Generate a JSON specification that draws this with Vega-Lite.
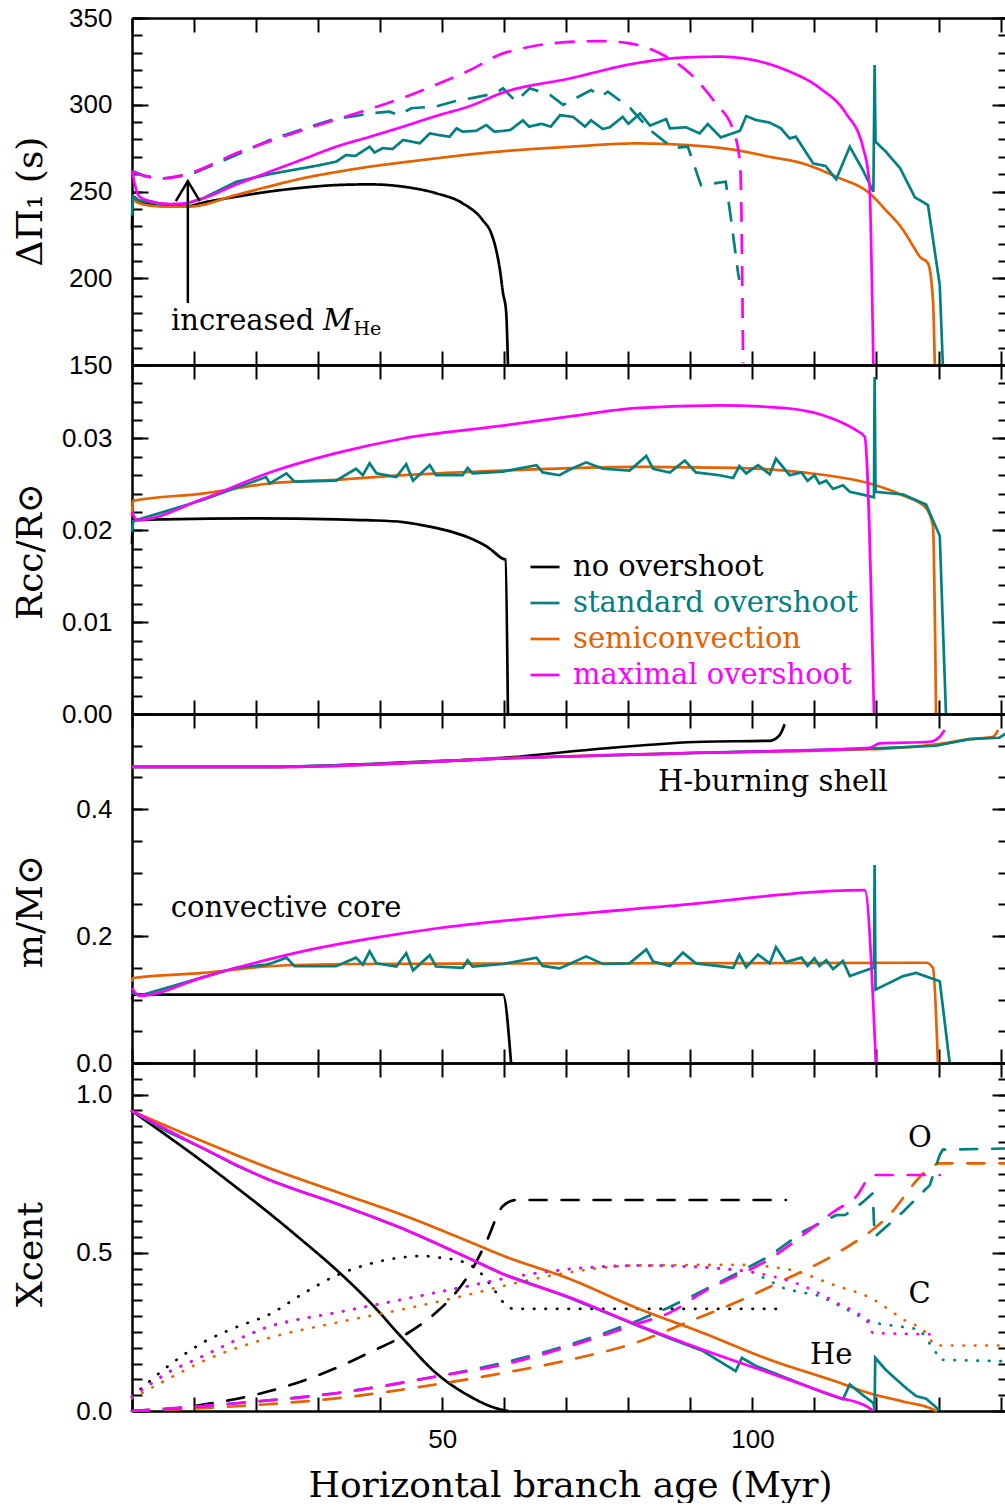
{
"$schema": "https://vega.github.io/schema/vega-lite/v6.json",
"padding": {"left": 12, "top": 5, "right": 0, "bottom": 0},
"bounds": "flush",
"spacing": 0,
"resolve": {"scale": {"strokeDash": "independent"}},
"config": {
  "view": {"stroke": null},
  "axis": {"domainColor": "#000", "tickColor": "#000", "labelColor": "#000", "titleColor": "#000", "grid": false, "domainWidth": 2.5, "tickWidth": 2, "labelFont": "Liberation Sans", "labelFontSize": 26, "titleFont": "DejaVu Serif", "titleFontSize": 36, "titleFontWeight": "normal", "labelFlush": false, "labelOverlap": false},
  "line": {"strokeWidth": 2.7, "clip": true, "interpolate": "monotone"}
},
"datasets": {
"p1": [
{"m":"none","v":"a","x":0,"y":228},{"m":"none","v":"a","x":0.15,"y":247},{"m":"none","v":"a","x":1,"y":245},{"m":"none","v":"a","x":3,"y":243},{"m":"none","v":"a","x":5.5,"y":241.5},{"m":"none","v":"a","x":8.2,"y":241.2},{"m":"none","v":"a","x":12,"y":244},{"m":"none","v":"a","x":16.8,"y":247},{"m":"none","v":"a","x":22.2,"y":250},{"m":"none","v":"a","x":27.5,"y":252.2},{"m":"none","v":"a","x":32.9,"y":253.7},{"m":"none","v":"a","x":38.3,"y":254.1},{"m":"none","v":"a","x":43.7,"y":252.8},{"m":"none","v":"a","x":49,"y":249},{"m":"none","v":"a","x":53.3,"y":243.2},{"m":"none","v":"a","x":56.5,"y":233.6},{"m":"none","v":"a","x":58,"y":225},{"m":"none","v":"a","x":58.7,"y":216.3},{"m":"none","v":"a","x":59.3,"y":205},{"m":"none","v":"a","x":59.8,"y":191.5},{"m":"none","v":"a","x":60.3,"y":181},{"m":"none","v":"a","x":60.6,"y":150},
{"m":"semi","v":"a","x":0,"y":246},{"m":"semi","v":"a","x":1,"y":243.5},{"m":"semi","v":"a","x":4,"y":241.5},{"m":"semi","v":"a","x":6.1,"y":241.2},{"m":"semi","v":"a","x":9.3,"y":241.3},{"m":"semi","v":"a","x":16.8,"y":248},{"m":"semi","v":"a","x":22.2,"y":253},{"m":"semi","v":"a","x":27.5,"y":257.6},{"m":"semi","v":"a","x":32.9,"y":261.2},{"m":"semi","v":"a","x":38.3,"y":264.3},{"m":"semi","v":"a","x":43.7,"y":266.8},{"m":"semi","v":"a","x":49,"y":269.1},{"m":"semi","v":"a","x":54.5,"y":271.4},{"m":"semi","v":"a","x":59.8,"y":273.2},{"m":"semi","v":"a","x":70.6,"y":275.8},{"m":"semi","v":"a","x":81.2,"y":277.7},{"m":"semi","v":"a","x":89.3,"y":276.8},{"m":"semi","v":"a","x":97.3,"y":273.9},{"m":"semi","v":"a","x":102.8,"y":270},{"m":"semi","v":"a","x":108.1,"y":266.2},{"m":"semi","v":"a","x":113.5,"y":258.5},{"m":"semi","v":"a","x":118.9,"y":248.9},{"m":"semi","v":"a","x":121.5,"y":239.3},{"m":"semi","v":"a","x":124.3,"y":227.8},{"m":"semi","v":"a","x":126,"y":218},{"m":"semi","v":"a","x":127,"y":212.4},{"m":"semi","v":"a","x":128.3,"y":208.6},{"m":"semi","v":"a","x":129.1,"y":187.5},{"m":"semi","v":"a","x":129.4,"y":150},
{"m":"std","v":"a","x":0,"y":236},{"m":"std","v":"a","x":0.15,"y":247},{"m":"std","v":"a","x":1,"y":245},{"m":"std","v":"a","x":4,"y":243},{"m":"std","v":"a","x":8,"y":242.3},{"m":"std","v":"a","x":11.4,"y":246},{"m":"std","v":"a","x":16.8,"y":255.6},{"m":"std","v":"a","x":22.2,"y":260},{"m":"std","v":"a","x":27.5,"y":263.4},{"m":"std","v":"a","x":30,"y":265},{"m":"std","v":"a","x":32.9,"y":267.2},{"m":"std","v":"a","x":34.5,"y":271},{"m":"std","v":"a","x":36,"y":270.5},{"m":"std","v":"a","x":38.3,"y":275.8},{"m":"std","v":"a","x":39.1,"y":272.4},{"m":"std","v":"a","x":40.4,"y":275},{"m":"std","v":"a","x":42,"y":274.5},{"m":"std","v":"a","x":43.7,"y":279.7},{"m":"std","v":"a","x":46.4,"y":277.8},{"m":"std","v":"a","x":48,"y":283.5},{"m":"std","v":"a","x":49.5,"y":282.5},{"m":"std","v":"a","x":51.2,"y":281.6},{"m":"std","v":"a","x":52.3,"y":286.4},{"m":"std","v":"a","x":53.3,"y":284.5},{"m":"std","v":"a","x":55.5,"y":285},{"m":"std","v":"a","x":57.1,"y":288.3},{"m":"std","v":"a","x":58.4,"y":284.5},{"m":"std","v":"a","x":59.8,"y":284.9},{"m":"std","v":"a","x":61,"y":285.5},{"m":"std","v":"a","x":63,"y":291},{"m":"std","v":"a","x":64,"y":287.4},{"m":"std","v":"a","x":66,"y":289},{"m":"std","v":"a","x":67.5,"y":287.4},{"m":"std","v":"a","x":69,"y":294},{"m":"std","v":"a","x":71.1,"y":293},{"m":"std","v":"a","x":73,"y":287.4},{"m":"std","v":"a","x":74,"y":291},{"m":"std","v":"a","x":75.9,"y":286},{"m":"std","v":"a","x":77,"y":287},{"m":"std","v":"a","x":79.1,"y":293},{"m":"std","v":"a","x":80,"y":289},{"m":"std","v":"a","x":81.9,"y":295},{"m":"std","v":"a","x":83.5,"y":288},{"m":"std","v":"a","x":86.1,"y":291.7},{"m":"std","v":"a","x":86.7,"y":286.4},{"m":"std","v":"a","x":89.3,"y":287},{"m":"std","v":"a","x":91.5,"y":283.5},{"m":"std","v":"a","x":92.8,"y":288.9},{"m":"std","v":"a","x":94.9,"y":281.2},{"m":"std","v":"a","x":98,"y":285},{"m":"std","v":"a","x":99,"y":293.5},{"m":"std","v":"a","x":100.6,"y":291.2},{"m":"std","v":"a","x":102.8,"y":289.7},{"m":"std","v":"a","x":104.6,"y":286.4},{"m":"std","v":"a","x":106,"y":280.6},{"m":"std","v":"a","x":107,"y":281.6},{"m":"std","v":"a","x":109.8,"y":266.2},{"m":"std","v":"a","x":111.8,"y":264.7},{"m":"std","v":"a","x":113.5,"y":257},{"m":"std","v":"a","x":115.7,"y":275.8},{"m":"std","v":"a","x":117.8,"y":262.4},{"m":"std","v":"a","x":119.5,"y":249.9},{"m":"std","v":"a","x":119.7,"y":322.9},{"m":"std","v":"a","x":119.85,"y":278.7},{"m":"std","v":"a","x":121.5,"y":273},{"m":"std","v":"a","x":123.8,"y":263.5},{"m":"std","v":"a","x":126.2,"y":246.6},{"m":"std","v":"a","x":128.3,"y":242.2},{"m":"std","v":"a","x":130.2,"y":196},{"m":"std","v":"a","x":130.7,"y":150},
{"m":"std","v":"b","x":0,"y":262},{"m":"std","v":"b","x":2,"y":259},{"m":"std","v":"b","x":5,"y":257.5},{"m":"std","v":"b","x":9.3,"y":259.5},{"m":"std","v":"b","x":16.8,"y":271},{"m":"std","v":"b","x":22.2,"y":279.7},{"m":"std","v":"b","x":27.5,"y":286},{"m":"std","v":"b","x":32.9,"y":292},{"m":"std","v":"b","x":36,"y":293.5},{"m":"std","v":"b","x":38.3,"y":295},{"m":"std","v":"b","x":41.5,"y":296},{"m":"std","v":"b","x":43,"y":294},{"m":"std","v":"b","x":45,"y":298},{"m":"std","v":"b","x":49,"y":299},{"m":"std","v":"b","x":52,"y":302},{"m":"std","v":"b","x":55,"y":304},{"m":"std","v":"b","x":58.6,"y":306.6},{"m":"std","v":"b","x":59.8,"y":309.5},{"m":"std","v":"b","x":61.9,"y":301.8},{"m":"std","v":"b","x":64.1,"y":309.5},{"m":"std","v":"b","x":67.4,"y":305.6},{"m":"std","v":"b","x":69.5,"y":299.9},{"m":"std","v":"b","x":74,"y":308.5},{"m":"std","v":"b","x":75.6,"y":304.7},{"m":"std","v":"b","x":76.7,"y":307.5},{"m":"std","v":"b","x":80.3,"y":298.1},{"m":"std","v":"b","x":83.5,"y":285.4},{"m":"std","v":"b","x":87.2,"y":275},{"m":"std","v":"b","x":89.6,"y":275.8},{"m":"std","v":"b","x":91.7,"y":253.7},{"m":"std","v":"b","x":95.7,"y":255.6},{"m":"std","v":"b","x":96.5,"y":235.5},{"m":"std","v":"b","x":97.7,"y":202.8},{"m":"std","v":"b","x":97.9,"y":199},
{"m":"max","v":"b","x":0,"y":261.4},{"m":"max","v":"b","x":2,"y":259},{"m":"max","v":"b","x":5,"y":257.6},{"m":"max","v":"b","x":9.3,"y":260.5},{"m":"max","v":"b","x":16.8,"y":272},{"m":"max","v":"b","x":22.2,"y":279},{"m":"max","v":"b","x":27.5,"y":285.4},{"m":"max","v":"b","x":38.3,"y":297.5},{"m":"max","v":"b","x":43.7,"y":304},{"m":"max","v":"b","x":49,"y":311.5},{"m":"max","v":"b","x":54.5,"y":320},{"m":"max","v":"b","x":59.8,"y":329.6},{"m":"max","v":"b","x":61.9,"y":331.6},{"m":"max","v":"b","x":67.8,"y":335.4},{"m":"max","v":"b","x":75.4,"y":336.7},{"m":"max","v":"b","x":80.2,"y":335.4},{"m":"max","v":"b","x":85.6,"y":328.7},{"m":"max","v":"b","x":89.9,"y":318.1},{"m":"max","v":"b","x":94.1,"y":300.8},{"m":"max","v":"b","x":96.9,"y":285.4},{"m":"max","v":"b","x":98,"y":266.4},{"m":"max","v":"b","x":98.2,"y":245},{"m":"max","v":"b","x":98.5,"y":151},
{"m":"max","v":"a","x":0,"y":262},{"m":"max","v":"a","x":1.2,"y":247},{"m":"max","v":"a","x":3.5,"y":244},{"m":"max","v":"a","x":6.1,"y":242.8},{"m":"max","v":"a","x":8,"y":243},{"m":"max","v":"a","x":11.4,"y":246},{"m":"max","v":"a","x":16.8,"y":254},{"m":"max","v":"a","x":22.2,"y":261.4},{"m":"max","v":"a","x":27.5,"y":268.5},{"m":"max","v":"a","x":32.9,"y":275.8},{"m":"max","v":"a","x":38.3,"y":281.5},{"m":"max","v":"a","x":43.7,"y":287.4},{"m":"max","v":"a","x":49,"y":293.5},{"m":"max","v":"a","x":54.5,"y":299.3},{"m":"max","v":"a","x":59.8,"y":307},{"m":"max","v":"a","x":70.6,"y":315.2},{"m":"max","v":"a","x":81.2,"y":323.9},{"m":"max","v":"a","x":89.3,"y":327.3},{"m":"max","v":"a","x":94.8,"y":327.7},{"m":"max","v":"a","x":100.1,"y":325.8},{"m":"max","v":"a","x":105.4,"y":320},{"m":"max","v":"a","x":110.9,"y":309.5},{"m":"max","v":"a","x":115.1,"y":295},{"m":"max","v":"a","x":117.8,"y":275.8},{"m":"max","v":"a","x":118.9,"y":252.8},{"m":"max","v":"a","x":119.1,"y":226},{"m":"max","v":"a","x":119.5,"y":150}
],
"p2": [
{"m":"none","x":0,"y":0.0185},{"m":"none","x":0.15,"y":0.0211},{"m":"none","x":5,"y":0.0212},{"m":"none","x":20,"y":0.0213},{"m":"none","x":33,"y":0.0212},{"m":"none","x":38,"y":0.0211},{"m":"none","x":43.7,"y":0.0209},{"m":"none","x":48,"y":0.0204},{"m":"none","x":51.7,"y":0.0198},{"m":"none","x":55,"y":0.019},{"m":"none","x":57.5,"y":0.0181},{"m":"none","x":59.8,"y":0.0169},{"m":"none","x":60.2,"y":0.0168},{"m":"none","x":60.6,"y":0},
{"m":"semi","x":0,"y":0.0216},{"m":"semi","x":0.15,"y":0.0232},{"m":"semi","x":11.4,"y":0.024},{"m":"semi","x":22.2,"y":0.0251},{"m":"semi","x":32.9,"y":0.0255},{"m":"semi","x":43.7,"y":0.026},{"m":"semi","x":59.8,"y":0.0265},{"m":"semi","x":81.2,"y":0.0269},{"m":"semi","x":97.3,"y":0.0268},{"m":"semi","x":108.1,"y":0.0263},{"m":"semi","x":118.9,"y":0.0251},{"m":"semi","x":124.3,"y":0.0238},{"m":"semi","x":127.9,"y":0.0225},{"m":"semi","x":129.1,"y":0.0205},{"m":"semi","x":129.6,"y":0},
{"m":"std","x":0,"y":0.0198},{"m":"std","x":0.2,"y":0.021},{"m":"std","x":11.4,"y":0.0233},{"m":"std","x":21.6,"y":0.0258},{"m":"std","x":22.2,"y":0.0251},{"m":"std","x":24.9,"y":0.0262},{"m":"std","x":26.2,"y":0.0253},{"m":"std","x":32.9,"y":0.0254},{"m":"std","x":36.1,"y":0.0267},{"m":"std","x":37.2,"y":0.026},{"m":"std","x":38.3,"y":0.0273},{"m":"std","x":39.4,"y":0.0262},{"m":"std","x":42.6,"y":0.0258},{"m":"std","x":44.2,"y":0.0272},{"m":"std","x":45.3,"y":0.0254},{"m":"std","x":48,"y":0.0271},{"m":"std","x":49,"y":0.026},{"m":"std","x":53.3,"y":0.026},{"m":"std","x":54.1,"y":0.0268},{"m":"std","x":54.9,"y":0.0262},{"m":"std","x":59.8,"y":0.0264},{"m":"std","x":65.2,"y":0.0271},{"m":"std","x":66.2,"y":0.0263},{"m":"std","x":68.9,"y":0.026},{"m":"std","x":70.5,"y":0.0266},{"m":"std","x":73.2,"y":0.0274},{"m":"std","x":75.9,"y":0.0267},{"m":"std","x":80.2,"y":0.0265},{"m":"std","x":82.9,"y":0.0281},{"m":"std","x":84,"y":0.0267},{"m":"std","x":86.7,"y":0.0263},{"m":"std","x":89.1,"y":0.0276},{"m":"std","x":90.9,"y":0.0263},{"m":"std","x":94.7,"y":0.026},{"m":"std","x":96.9,"y":0.0257},{"m":"std","x":97.9,"y":0.027},{"m":"std","x":99,"y":0.0262},{"m":"std","x":100.9,"y":0.0271},{"m":"std","x":102.8,"y":0.0261},{"m":"std","x":103.8,"y":0.0278},{"m":"std","x":106,"y":0.026},{"m":"std","x":107.9,"y":0.0263},{"m":"std","x":108.9,"y":0.0254},{"m":"std","x":110,"y":0.026},{"m":"std","x":110.8,"y":0.0251},{"m":"std","x":111.9,"y":0.0254},{"m":"std","x":113,"y":0.0245},{"m":"std","x":114.6,"y":0.0249},{"m":"std","x":115.7,"y":0.0242},{"m":"std","x":118.3,"y":0.0238},{"m":"std","x":119.6,"y":0.0236},{"m":"std","x":119.7,"y":0.0367},{"m":"std","x":119.85,"y":0.0242},{"m":"std","x":124.3,"y":0.0239},{"m":"std","x":128,"y":0.0228},{"m":"std","x":130.2,"y":0.0194},{"m":"std","x":131.2,"y":0},
{"m":"max","x":0,"y":0.022},{"m":"max","x":0.8,"y":0.0211},{"m":"max","x":11.4,"y":0.0234},{"m":"max","x":22.2,"y":0.0263},{"m":"max","x":32.9,"y":0.0284},{"m":"max","x":43.7,"y":0.03},{"m":"max","x":59.8,"y":0.0314},{"m":"max","x":70.6,"y":0.0324},{"m":"max","x":81.2,"y":0.0333},{"m":"max","x":94.8,"y":0.0336},{"m":"max","x":105.4,"y":0.0333},{"m":"max","x":113.5,"y":0.032},{"m":"max","x":116.7,"y":0.0309},{"m":"max","x":118.1,"y":0.0302},{"m":"max","x":119.6,"y":0}
],
"p3": [
{"m":"none","p":"s","x":0,"y":0.4667},{"m":"none","p":"s","x":24,"y":0.4667},{"m":"none","p":"s","x":40,"y":0.472},{"m":"none","p":"s","x":50,"y":0.476},{"m":"none","p":"s","x":59.8,"y":0.481},{"m":"none","p":"s","x":75.9,"y":0.4956},{"m":"none","p":"s","x":92,"y":0.5063},{"m":"none","p":"s","x":102.8,"y":0.5078},{"m":"none","p":"s","x":104.4,"y":0.5167},{"m":"none","p":"s","x":105.2,"y":0.5337},
{"m":"none","p":"c","x":0,"y":0.1},{"m":"none","p":"c","x":0.2,"y":0.1077},{"m":"none","p":"c","x":59.8,"y":0.1077},{"m":"none","p":"c","x":61.1,"y":0},
{"m":"semi","p":"s","x":0,"y":0.4667},{"m":"semi","p":"s","x":24,"y":0.4667},{"m":"semi","p":"s","x":40,"y":0.471},{"m":"semi","p":"s","x":59.8,"y":0.48},{"m":"semi","p":"s","x":86.7,"y":0.4877},{"m":"semi","p":"s","x":118.9,"y":0.4945},{"m":"semi","p":"s","x":121.6,"y":0.4955},{"m":"semi","p":"s","x":129.6,"y":0.502},{"m":"semi","p":"s","x":135,"y":0.5104},{"m":"semi","p":"s","x":138.8,"y":0.5142},{"m":"semi","p":"s","x":139.6,"y":0.5246},
{"m":"semi","p":"c","x":0,"y":0.128},{"m":"semi","p":"c","x":0.15,"y":0.134},{"m":"semi","p":"c","x":11.4,"y":0.142},{"m":"semi","p":"c","x":22.2,"y":0.1525},{"m":"semi","p":"c","x":35,"y":0.156},{"m":"semi","p":"c","x":59.8,"y":0.1568},{"m":"semi","p":"c","x":128,"y":0.158},{"m":"semi","p":"c","x":129.1,"y":0.15},{"m":"semi","p":"c","x":129.9,"y":0},
{"m":"std","p":"s","x":0,"y":0.4667},{"m":"std","p":"s","x":24,"y":0.4667},{"m":"std","p":"s","x":40,"y":0.471},{"m":"std","p":"s","x":59.8,"y":0.48},{"m":"std","p":"s","x":86.7,"y":0.4877},{"m":"std","p":"s","x":118.9,"y":0.4955},{"m":"std","p":"s","x":129.6,"y":0.5},{"m":"std","p":"s","x":135,"y":0.5104},{"m":"std","p":"s","x":139.8,"y":0.5126},{"m":"std","p":"s","x":140.9,"y":0.5195},{"m":"std","p":"s","x":141.2,"y":0.522},
{"m":"std","p":"c","x":0,"y":0.112},{"m":"std","p":"c","x":1.2,"y":0.106},{"m":"std","p":"c","x":11.4,"y":0.135},{"m":"std","p":"c","x":16.8,"y":0.15},{"m":"std","p":"c","x":21.6,"y":0.155},{"m":"std","p":"c","x":22.5,"y":0.1573},{"m":"std","p":"c","x":24.9,"y":0.166},{"m":"std","p":"c","x":26.2,"y":0.1525},{"m":"std","p":"c","x":32.9,"y":0.1525},{"m":"std","p":"c","x":36.1,"y":0.166},{"m":"std","p":"c","x":37.2,"y":0.155},{"m":"std","p":"c","x":38.3,"y":0.176},{"m":"std","p":"c","x":39.4,"y":0.157},{"m":"std","p":"c","x":42.6,"y":0.152},{"m":"std","p":"c","x":44.2,"y":0.173},{"m":"std","p":"c","x":45.3,"y":0.146},{"m":"std","p":"c","x":48,"y":0.17},{"m":"std","p":"c","x":49,"y":0.152},{"m":"std","p":"c","x":53.3,"y":0.15},{"m":"std","p":"c","x":54.1,"y":0.162},{"m":"std","p":"c","x":54.9,"y":0.152},{"m":"std","p":"c","x":59.8,"y":0.156},{"m":"std","p":"c","x":65.2,"y":0.166},{"m":"std","p":"c","x":66.2,"y":0.153},{"m":"std","p":"c","x":68.9,"y":0.149},{"m":"std","p":"c","x":70.5,"y":0.156},{"m":"std","p":"c","x":73.2,"y":0.168},{"m":"std","p":"c","x":75.9,"y":0.156},{"m":"std","p":"c","x":80.2,"y":0.157},{"m":"std","p":"c","x":82.9,"y":0.179},{"m":"std","p":"c","x":84,"y":0.16},{"m":"std","p":"c","x":86.7,"y":0.153},{"m":"std","p":"c","x":88.8,"y":0.174},{"m":"std","p":"c","x":90.9,"y":0.157},{"m":"std","p":"c","x":96.9,"y":0.15},{"m":"std","p":"c","x":97.9,"y":0.171},{"m":"std","p":"c","x":99,"y":0.151},{"m":"std","p":"c","x":100.9,"y":0.171},{"m":"std","p":"c","x":102.8,"y":0.157},{"m":"std","p":"c","x":103.8,"y":0.1826},{"m":"std","p":"c","x":105.4,"y":0.159},{"m":"std","p":"c","x":107.9,"y":0.166},{"m":"std","p":"c","x":108.9,"y":0.153},{"m":"std","p":"c","x":110,"y":0.165},{"m":"std","p":"c","x":110.8,"y":0.153},{"m":"std","p":"c","x":111.9,"y":0.162},{"m":"std","p":"c","x":113,"y":0.148},{"m":"std","p":"c","x":114.6,"y":0.161},{"m":"std","p":"c","x":115.7,"y":0.137},{"m":"std","p":"c","x":118.9,"y":0.148},{"m":"std","p":"c","x":119.6,"y":0.15},{"m":"std","p":"c","x":119.7,"y":0.312},{"m":"std","p":"c","x":119.85,"y":0.1156},{"m":"std","p":"c","x":124.3,"y":0.137},{"m":"std","p":"c","x":126.4,"y":0.142},{"m":"std","p":"c","x":130.2,"y":0.1288},{"m":"std","p":"c","x":131.8,"y":0},
{"m":"max","p":"s","x":0,"y":0.4667},{"m":"max","p":"s","x":24,"y":0.4667},{"m":"max","p":"s","x":40,"y":0.471},{"m":"max","p":"s","x":59.8,"y":0.48},{"m":"max","p":"s","x":86.7,"y":0.4877},{"m":"max","p":"s","x":118.9,"y":0.4967},{"m":"max","p":"s","x":120.5,"y":0.5036},{"m":"max","p":"s","x":128.6,"y":0.5063},{"m":"max","p":"s","x":130.2,"y":0.5142},{"m":"max","p":"s","x":131,"y":0.5246},
{"m":"max","p":"c","x":0,"y":0.118},{"m":"max","p":"c","x":1.2,"y":0.106},{"m":"max","p":"c","x":11.4,"y":0.135},{"m":"max","p":"c","x":16.8,"y":0.15},{"m":"max","p":"c","x":27.5,"y":0.176},{"m":"max","p":"c","x":38.3,"y":0.196},{"m":"max","p":"c","x":49,"y":0.212},{"m":"max","p":"c","x":59.8,"y":0.224},{"m":"max","p":"c","x":86.7,"y":0.2475},{"m":"max","p":"c","x":118.1,"y":0.2724},{"m":"max","p":"c","x":119.9,"y":0}
],
"p4": [
{"m":"none","e":"He","x":0,"y":0.948},{"m":"none","e":"He","x":5.5,"y":0.872},{"m":"none","e":"He","x":11.4,"y":0.788},{"m":"none","e":"He","x":16.8,"y":0.707},{"m":"none","e":"He","x":22.2,"y":0.624},{"m":"none","e":"He","x":27.5,"y":0.538},{"m":"none","e":"He","x":32.9,"y":0.447},{"m":"none","e":"He","x":38.3,"y":0.345},{"m":"none","e":"He","x":43.7,"y":0.228},{"m":"none","e":"He","x":49,"y":0.12},{"m":"none","e":"He","x":54.5,"y":0.046},{"m":"none","e":"He","x":57.5,"y":0.017},{"m":"none","e":"He","x":59.8,"y":0.003},{"m":"none","e":"He","x":60.6,"y":0},
{"m":"none","e":"C","x":0,"y":0.045},{"m":"none","e":"C","x":6.1,"y":0.146},{"m":"none","e":"C","x":11.4,"y":0.216},{"m":"none","e":"C","x":16.8,"y":0.265},{"m":"none","e":"C","x":22.2,"y":0.306},{"m":"none","e":"C","x":27.5,"y":0.37},{"m":"none","e":"C","x":32.9,"y":0.428},{"m":"none","e":"C","x":38.3,"y":0.465},{"m":"none","e":"C","x":43.7,"y":0.486},{"m":"none","e":"C","x":47,"y":0.49},{"m":"none","e":"C","x":49,"y":0.486},{"m":"none","e":"C","x":52,"y":0.478},{"m":"none","e":"C","x":54.5,"y":0.462},{"m":"none","e":"C","x":56.5,"y":0.43},{"m":"none","e":"C","x":58.5,"y":0.38},{"m":"none","e":"C","x":60,"y":0.34},{"m":"none","e":"C","x":61.5,"y":0.323},{"m":"none","e":"C","x":105.4,"y":0.323},
{"m":"none","e":"O","x":0,"y":0},{"m":"none","e":"O","x":5.5,"y":0.005},{"m":"none","e":"O","x":11.4,"y":0.02},{"m":"none","e":"O","x":16.8,"y":0.038},{"m":"none","e":"O","x":22.2,"y":0.063},{"m":"none","e":"O","x":27.5,"y":0.095},{"m":"none","e":"O","x":32.9,"y":0.136},{"m":"none","e":"O","x":38.3,"y":0.185},{"m":"none","e":"O","x":43.7,"y":0.237},{"m":"none","e":"O","x":49,"y":0.311},{"m":"none","e":"O","x":52,"y":0.37},{"m":"none","e":"O","x":54.5,"y":0.437},{"m":"none","e":"O","x":57,"y":0.53},{"m":"none","e":"O","x":59.8,"y":0.648},{"m":"none","e":"O","x":61.9,"y":0.667},{"m":"none","e":"O","x":105.4,"y":0.667},
{"m":"semi","e":"He","x":0,"y":0.948},{"m":"semi","e":"He","x":11.4,"y":0.8525},{"m":"semi","e":"He","x":22.2,"y":0.7675},{"m":"semi","e":"He","x":32.9,"y":0.693},{"m":"semi","e":"He","x":43.7,"y":0.619},{"m":"semi","e":"He","x":54.5,"y":0.534},{"m":"semi","e":"He","x":59.8,"y":0.491},{"m":"semi","e":"He","x":70.6,"y":0.417},{"m":"semi","e":"He","x":81.2,"y":0.327},{"m":"semi","e":"He","x":92,"y":0.247},{"m":"semi","e":"He","x":102.8,"y":0.162},{"m":"semi","e":"He","x":113.5,"y":0.093},{"m":"semi","e":"He","x":118.9,"y":0.056},{"m":"semi","e":"He","x":124.3,"y":0.03},{"m":"semi","e":"He","x":129.1,"y":0.005},{"m":"semi","e":"He","x":129.6,"y":0},
{"m":"semi","e":"C","x":0,"y":0.04},{"m":"semi","e":"C","x":6.1,"y":0.104},{"m":"semi","e":"C","x":11.4,"y":0.157},{"m":"semi","e":"C","x":22.2,"y":0.2315},{"m":"semi","e":"C","x":32.9,"y":0.279},{"m":"semi","e":"C","x":43.7,"y":0.3216},{"m":"semi","e":"C","x":54.5,"y":0.369},{"m":"semi","e":"C","x":59.8,"y":0.395},{"m":"semi","e":"C","x":70.6,"y":0.4385},{"m":"semi","e":"C","x":81.2,"y":0.46},{"m":"semi","e":"C","x":97.3,"y":0.462},{"m":"semi","e":"C","x":105.4,"y":0.449},{"m":"semi","e":"C","x":113.5,"y":0.396},{"m":"semi","e":"C","x":118.9,"y":0.359},{"m":"semi","e":"C","x":124.3,"y":0.29},{"m":"semi","e":"C","x":128,"y":0.247},{"m":"semi","e":"C","x":129.6,"y":0.207},{"m":"semi","e":"C","x":141.2,"y":0.207},
{"m":"semi","e":"O","x":0,"y":0},{"m":"semi","e":"O","x":16.8,"y":0.015},{"m":"semi","e":"O","x":32.9,"y":0.04},{"m":"semi","e":"O","x":49,"y":0.084},{"m":"semi","e":"O","x":59.8,"y":0.12},{"m":"semi","e":"O","x":70.6,"y":0.162},{"m":"semi","e":"O","x":81.2,"y":0.216},{"m":"semi","e":"O","x":89.3,"y":0.279},{"m":"semi","e":"O","x":97.3,"y":0.343},{"m":"semi","e":"O","x":105.4,"y":0.417},{"m":"semi","e":"O","x":113.5,"y":0.497},{"m":"semi","e":"O","x":121.5,"y":0.608},{"m":"semi","e":"O","x":128.6,"y":0.7675},{"m":"semi","e":"O","x":130.2,"y":0.783},{"m":"semi","e":"O","x":141.2,"y":0.783},
{"m":"std","e":"He","x":0,"y":0.948},{"m":"std","e":"He","x":5.5,"y":0.885},{"m":"std","e":"He","x":11.4,"y":0.831},{"m":"std","e":"He","x":16.8,"y":0.776},{"m":"std","e":"He","x":22.2,"y":0.73},{"m":"std","e":"He","x":27.5,"y":0.692},{"m":"std","e":"He","x":32.9,"y":0.656},{"m":"std","e":"He","x":38.3,"y":0.617},{"m":"std","e":"He","x":43.7,"y":0.576},{"m":"std","e":"He","x":49,"y":0.53},{"m":"std","e":"He","x":54.5,"y":0.481},{"m":"std","e":"He","x":59.8,"y":0.433},{"m":"std","e":"He","x":65.2,"y":0.396},{"m":"std","e":"He","x":70.6,"y":0.357},{"m":"std","e":"He","x":75.9,"y":0.315},{"m":"std","e":"He","x":81.2,"y":0.272},{"m":"std","e":"He","x":86.6,"y":0.23},{"m":"std","e":"He","x":92,"y":0.19},{"m":"std","e":"He","x":97.3,"y":0.126},{"m":"std","e":"He","x":98.3,"y":0.168},{"m":"std","e":"He","x":100.6,"y":0.142},{"m":"std","e":"He","x":104.5,"y":0.112},{"m":"std","e":"He","x":108.1,"y":0.084},{"m":"std","e":"He","x":111.5,"y":0.058},{"m":"std","e":"He","x":114.6,"y":0.037},{"m":"std","e":"He","x":115.7,"y":0.084},{"m":"std","e":"He","x":117.5,"y":0.055},{"m":"std","e":"He","x":119.5,"y":0.025},{"m":"std","e":"He","x":119.7,"y":0.005},{"m":"std","e":"He","x":119.8,"y":0.168},{"m":"std","e":"He","x":121.5,"y":0.13},{"m":"std","e":"He","x":123.2,"y":0.1},{"m":"std","e":"He","x":124.8,"y":0.072},{"m":"std","e":"He","x":126.4,"y":0.047},{"m":"std","e":"He","x":128,"y":0.039},{"m":"std","e":"He","x":130,"y":0.005},
{"m":"std","e":"C","x":0,"y":0.045},{"m":"std","e":"C","x":6.1,"y":0.125},{"m":"std","e":"C","x":11.4,"y":0.173},{"m":"std","e":"C","x":16.8,"y":0.225},{"m":"std","e":"C","x":22.2,"y":0.268},{"m":"std","e":"C","x":27.5,"y":0.292},{"m":"std","e":"C","x":32.9,"y":0.311},{"m":"std","e":"C","x":38.3,"y":0.332},{"m":"std","e":"C","x":43.7,"y":0.353},{"m":"std","e":"C","x":49,"y":0.375},{"m":"std","e":"C","x":54.5,"y":0.396},{"m":"std","e":"C","x":59.8,"y":0.418},{"m":"std","e":"C","x":65.2,"y":0.436},{"m":"std","e":"C","x":70.6,"y":0.449},{"m":"std","e":"C","x":75.9,"y":0.456},{"m":"std","e":"C","x":81.2,"y":0.46},{"m":"std","e":"C","x":86.6,"y":0.459},{"m":"std","e":"C","x":92,"y":0.4545},{"m":"std","e":"C","x":96,"y":0.448},{"m":"std","e":"C","x":100.1,"y":0.4385},{"m":"std","e":"C","x":105.4,"y":0.385},{"m":"std","e":"C","x":110.9,"y":0.364},{"m":"std","e":"C","x":117.3,"y":0.3},{"m":"std","e":"C","x":119.4,"y":0.279},{"m":"std","e":"C","x":127,"y":0.258},{"m":"std","e":"C","x":129.6,"y":0.184},{"m":"std","e":"C","x":130.2,"y":0.162},{"m":"std","e":"C","x":141.2,"y":0.157},
{"m":"std","e":"O","x":0,"y":0},{"m":"std","e":"O","x":8.4,"y":0.01},{"m":"std","e":"O","x":16.8,"y":0.0245},{"m":"std","e":"O","x":24.9,"y":0.039},{"m":"std","e":"O","x":32.9,"y":0.056},{"m":"std","e":"O","x":41,"y":0.08},{"m":"std","e":"O","x":49,"y":0.109},{"m":"std","e":"O","x":54.4,"y":0.129},{"m":"std","e":"O","x":59.8,"y":0.152},{"m":"std","e":"O","x":65.2,"y":0.179},{"m":"std","e":"O","x":70.6,"y":0.21},{"m":"std","e":"O","x":75.9,"y":0.244},{"m":"std","e":"O","x":81.2,"y":0.283},{"m":"std","e":"O","x":86.6,"y":0.328},{"m":"std","e":"O","x":92,"y":0.38},{"m":"std","e":"O","x":97.4,"y":0.434},{"m":"std","e":"O","x":102.8,"y":0.49},{"m":"std","e":"O","x":108.1,"y":0.566},{"m":"std","e":"O","x":113.5,"y":0.619},{"m":"std","e":"O","x":115,"y":0.62},{"m":"std","e":"O","x":117.8,"y":0.66},{"m":"std","e":"O","x":119.4,"y":0.688},{"m":"std","e":"O","x":119.7,"y":0.55},{"m":"std","e":"O","x":124.3,"y":0.63},{"m":"std","e":"O","x":128.6,"y":0.714},{"m":"std","e":"O","x":130.2,"y":0.81},{"m":"std","e":"O","x":130.7,"y":0.826},{"m":"std","e":"O","x":141.2,"y":0.83},
{"m":"max","e":"He","x":0,"y":0.948},{"m":"max","e":"He","x":11.4,"y":0.831},{"m":"max","e":"He","x":22.2,"y":0.73},{"m":"max","e":"He","x":32.9,"y":0.656},{"m":"max","e":"He","x":43.7,"y":0.576},{"m":"max","e":"He","x":54.5,"y":0.481},{"m":"max","e":"He","x":59.8,"y":0.433},{"m":"max","e":"He","x":70.6,"y":0.359},{"m":"max","e":"He","x":81.2,"y":0.274},{"m":"max","e":"He","x":92,"y":0.194},{"m":"max","e":"He","x":102.8,"y":0.12},{"m":"max","e":"He","x":113.5,"y":0.0456},{"m":"max","e":"He","x":118.9,"y":0.0085},{"m":"max","e":"He","x":119.3,"y":0.003},
{"m":"max","e":"C","x":0,"y":0.045},{"m":"max","e":"C","x":6.1,"y":0.125},{"m":"max","e":"C","x":11.4,"y":0.173},{"m":"max","e":"C","x":22.2,"y":0.268},{"m":"max","e":"C","x":32.9,"y":0.311},{"m":"max","e":"C","x":43.7,"y":0.353},{"m":"max","e":"C","x":54.5,"y":0.396},{"m":"max","e":"C","x":59.8,"y":0.418},{"m":"max","e":"C","x":70.6,"y":0.449},{"m":"max","e":"C","x":81.2,"y":0.46},{"m":"max","e":"C","x":92,"y":0.4545},{"m":"max","e":"C","x":100.1,"y":0.4385},{"m":"max","e":"C","x":108.1,"y":0.396},{"m":"max","e":"C","x":113.5,"y":0.343},{"m":"max","e":"C","x":118.9,"y":0.274},{"m":"max","e":"C","x":119.4,"y":0.247},{"m":"max","e":"C","x":130,"y":0.242},
{"m":"max","e":"O","x":0,"y":0},{"m":"max","e":"O","x":16.8,"y":0.0245},{"m":"max","e":"O","x":32.9,"y":0.056},{"m":"max","e":"O","x":49,"y":0.109},{"m":"max","e":"O","x":59.8,"y":0.1465},{"m":"max","e":"O","x":70.6,"y":0.205},{"m":"max","e":"O","x":81.2,"y":0.274},{"m":"max","e":"O","x":86.7,"y":0.311},{"m":"max","e":"O","x":92,"y":0.375},{"m":"max","e":"O","x":102.8,"y":0.481},{"m":"max","e":"O","x":113.5,"y":0.635},{"m":"max","e":"O","x":116.7,"y":0.677},{"m":"max","e":"O","x":119.4,"y":0.746},{"m":"max","e":"O","x":130.2,"y":0.746}
]
},
"vconcat": [
{
 "width": 876, "height": 347,
 "data": {"name": "p1"},
 "resolve": {"axis": {"x": "independent", "y": "independent"}},
 "layer": [
  {"transform": [{"filter": "datum.m=='none'"}], "mark": {"type": "line"},
   "encoding": {
    "x": {"field": "x", "type": "quantitative", "scale": {"domain": [0, 141.2], "nice": false, "zero": false}, "axis": {"orient": "bottom", "values": [0,10,20,30,40,50,60,70,80,90,100,110,120,130,140], "labels": false, "tickSize": -14, "title": null}},
    "y": {"field": "y", "type": "quantitative", "scale": {"domain": [150, 350], "nice": false, "zero": false}, "axis": {"orient": "left", "values": [150,200,250,300,350], "tickSize": -16, "labelPadding": 36, "title": "ΔΠ₁ (s)", "titleX": -91, "titleY": 183, "titleAngle": 270, "titleAlign": "center", "titleBaseline": "alphabetic"}},
    "color": {"field": "m", "type": "nominal", "scale": {"domain": ["none","std","semi","max"], "range": ["#000000","#008080","#e66100","#ff00ff"]}},
    "strokeDash": {"field": "v", "type": "nominal", "scale": {"domain": ["a","b"], "range": [[1,0],[20,12]]}, "legend": null},
    "order": {"value": null}}},
  {"transform": [{"filter": "datum.m=='semi'"}], "mark": {"type": "line"},
   "encoding": {
    "x": {"field": "x", "type": "quantitative", "scale": {"domain": [0, 141.2], "nice": false, "zero": false}, "axis": {"orient": "top", "values": [0,10,20,30,40,50,60,70,80,90,100,110,120,130,140], "labels": false, "tickSize": -14, "title": null}},
    "y": {"field": "y", "type": "quantitative", "scale": {"domain": [150, 350], "nice": false, "zero": false}, "axis": {"orient": "left", "values": [150,160,170,180,190,200,210,220,230,240,250,260,270,280,290,300,310,320,330,340,350], "tickSize": -10, "labels": false, "domain": false, "title": null}},
    "color": {"field": "m", "type": "nominal", "scale": {"domain": ["none","std","semi","max"], "range": ["#000000","#008080","#e66100","#ff00ff"]}},
    "strokeDash": {"field": "v", "type": "nominal", "scale": {"domain": ["a","b"], "range": [[1,0],[20,12]]}, "legend": null},
    "order": {"value": null}}},
  {"transform": [{"filter": "datum.m=='std'"}], "mark": {"type": "line", "interpolate": "linear"},
   "encoding": {
    "x": {"field": "x", "type": "quantitative", "scale": {"domain": [0, 141.2], "nice": false, "zero": false}, "axis": null},
    "y": {"field": "y", "type": "quantitative", "scale": {"domain": [150, 350], "nice": false, "zero": false}, "axis": {"orient": "right", "values": [150,200,250,300,350], "tickSize": -16, "labels": false, "title": null}},
    "color": {"field": "m", "type": "nominal", "scale": {"domain": ["none","std","semi","max"], "range": ["#000000","#008080","#e66100","#ff00ff"]}},
    "strokeDash": {"field": "v", "type": "nominal", "scale": {"domain": ["a","b"], "range": [[1,0],[20,12]]}, "legend": null},
    "order": {"value": null}}},
  {"transform": [{"filter": "datum.m=='max'"}], "mark": {"type": "line"},
   "encoding": {
    "x": {"field": "x", "type": "quantitative", "scale": {"domain": [0, 141.2], "nice": false, "zero": false}, "axis": null},
    "y": {"field": "y", "type": "quantitative", "scale": {"domain": [150, 350], "nice": false, "zero": false}, "axis": {"orient": "right", "values": [150,160,170,180,190,200,210,220,230,240,250,260,270,280,290,300,310,320,330,340,350], "tickSize": -10, "labels": false, "domain": false, "title": null}},
    "color": {"field": "m", "type": "nominal", "scale": {"domain": ["none","std","semi","max"], "range": ["#000000","#008080","#e66100","#ff00ff"]}},
    "strokeDash": {"field": "v", "type": "nominal", "scale": {"domain": ["a","b"], "range": [[1,0],[20,12]]}, "legend": null},
    "order": {"value": null}}},
  {"data": {"values": [{"x": 9, "y": 185.7, "y2": 256}]}, "mark": {"type": "rule", "strokeWidth": 2.5, "color": "#000000"},
   "encoding": {"x": {"field": "x", "type": "quantitative", "scale": {"domain": [0, 141.2], "nice": false, "zero": false}, "axis": null}, "y": {"field": "y", "type": "quantitative", "scale": {"domain": [150, 350], "nice": false, "zero": false}, "axis": null}, "y2": {"field": "y2"}}},
  {"data": {"values": [{"x": 9, "y": 256}]}, "mark": {"type": "point", "shape": "M -0.6 1 L 0 0 L 0.6 1", "size": 1600, "filled": false, "strokeWidth": 2.5, "color": "#000000", "opacity": 1},
   "encoding": {"x": {"field": "x", "type": "quantitative", "scale": {"domain": [0, 141.2], "nice": false, "zero": false}, "axis": null}, "y": {"field": "y", "type": "quantitative", "scale": {"domain": [150, 350], "nice": false, "zero": false}, "axis": null}}},
  {"data": {"values": [{"t": "increased", "x": 6.3, "y": 170}]}, "mark": {"type": "text", "font": "DejaVu Serif", "fontSize": 29, "align": "left", "baseline": "alphabetic", "color": "#000000"},
   "encoding": {"x": {"field": "x", "type": "quantitative", "scale": {"domain": [0, 141.2], "nice": false, "zero": false}, "axis": null}, "y": {"field": "y", "type": "quantitative", "scale": {"domain": [150, 350], "nice": false, "zero": false}, "axis": null}, "text": {"field": "t"}}},
  {"data": {"values": [{"t": "M", "x": 30.8, "y": 170}]}, "mark": {"type": "text", "font": "DejaVu Serif", "fontSize": 29, "fontStyle": "italic", "align": "left", "baseline": "alphabetic", "color": "#000000"},
   "encoding": {"x": {"field": "x", "type": "quantitative", "scale": {"domain": [0, 141.2], "nice": false, "zero": false}, "axis": null}, "y": {"field": "y", "type": "quantitative", "scale": {"domain": [150, 350], "nice": false, "zero": false}, "axis": null}, "text": {"field": "t"}}},
  {"data": {"values": [{"t": "He", "x": 35.7, "y": 167.3}]}, "mark": {"type": "text", "font": "DejaVu Serif", "fontSize": 19, "align": "left", "baseline": "alphabetic", "color": "#000000"},
   "encoding": {"x": {"field": "x", "type": "quantitative", "scale": {"domain": [0, 141.2], "nice": false, "zero": false}, "axis": null}, "y": {"field": "y", "type": "quantitative", "scale": {"domain": [150, 350], "nice": false, "zero": false}, "axis": null}, "text": {"field": "t"}}}
 ]
},
{
 "width": 876, "height": 349,
 "data": {"name": "p2"},
 "resolve": {"axis": {"x": "independent", "y": "independent"}},
 "layer": [
  {"transform": [{"filter": "datum.m=='none'"}], "mark": {"type": "line"},
   "encoding": {
    "x": {"field": "x", "type": "quantitative", "scale": {"domain": [0, 141.2], "nice": false, "zero": false}, "axis": {"orient": "bottom", "values": [0,10,20,30,40,50,60,70,80,90,100,110,120,130,140], "labels": false, "tickSize": -14, "title": null}},
    "y": {"field": "y", "type": "quantitative", "scale": {"domain": [0, 0.038], "nice": false, "zero": false}, "axis": {"orient": "left", "values": [0,0.01,0.02,0.03], "format": ".2f", "tickSize": -16, "labelPadding": 36, "title": "Rcc/R⊙", "titleX": -91, "titleY": 186, "titleAngle": 270, "titleAlign": "center", "titleBaseline": "alphabetic"}},
    "color": {"field": "m", "type": "nominal", "scale": {"domain": ["none","std","semi","max"], "range": ["#000000","#008080","#e66100","#ff00ff"]},
      "legend": {"orient": "none", "legendX": 397, "legendY": 533, "title": null, "symbolType": "stroke", "symbolSize": 841, "symbolStrokeWidth": 3.5, "labelFont": "DejaVu Serif", "labelFontSize": 29, "labelOffset": 12, "rowPadding": 5, "padding": 0, "labelLimit": 600,
        "labelColor": {"expr": "scale('color', datum.value)"},
        "labelExpr": "datum.label=='none'?'no overshoot':datum.label=='std'?'standard overshoot':datum.label=='semi'?'semiconvection':'maximal overshoot'"}},
    "order": {"value": null}}},
  {"transform": [{"filter": "datum.m=='semi'"}], "mark": {"type": "line"},
   "encoding": {
    "x": {"field": "x", "type": "quantitative", "scale": {"domain": [0, 141.2], "nice": false, "zero": false}, "axis": {"orient": "top", "values": [0,10,20,30,40,50,60,70,80,90,100,110,120,130,140], "labels": false, "tickSize": -14, "title": null}},
    "y": {"field": "y", "type": "quantitative", "scale": {"domain": [0, 0.038], "nice": false, "zero": false}, "axis": {"orient": "left", "values": [0,0.002,0.004,0.006,0.008,0.01,0.012,0.014,0.016,0.018,0.02,0.022,0.024,0.026,0.028,0.03,0.032,0.034,0.036,0.038], "tickSize": -10, "labels": false, "domain": false, "title": null}},
    "color": {"field": "m", "type": "nominal", "scale": {"domain": ["none","std","semi","max"], "range": ["#000000","#008080","#e66100","#ff00ff"]}},
    "order": {"value": null}}},
  {"transform": [{"filter": "datum.m=='std'"}], "mark": {"type": "line", "interpolate": "linear"},
   "encoding": {
    "x": {"field": "x", "type": "quantitative", "scale": {"domain": [0, 141.2], "nice": false, "zero": false}, "axis": null},
    "y": {"field": "y", "type": "quantitative", "scale": {"domain": [0, 0.038], "nice": false, "zero": false}, "axis": {"orient": "right", "values": [0,0.01,0.02,0.03], "tickSize": -16, "labels": false, "title": null}},
    "color": {"field": "m", "type": "nominal", "scale": {"domain": ["none","std","semi","max"], "range": ["#000000","#008080","#e66100","#ff00ff"]}},
    "order": {"value": null}}},
  {"transform": [{"filter": "datum.m=='max'"}], "mark": {"type": "line"},
   "encoding": {
    "x": {"field": "x", "type": "quantitative", "scale": {"domain": [0, 141.2], "nice": false, "zero": false}, "axis": null},
    "y": {"field": "y", "type": "quantitative", "scale": {"domain": [0, 0.038], "nice": false, "zero": false}, "axis": {"orient": "right", "values": [0,0.002,0.004,0.006,0.008,0.01,0.012,0.014,0.016,0.018,0.02,0.022,0.024,0.026,0.028,0.03,0.032,0.034,0.036,0.038], "tickSize": -10, "labels": false, "domain": false, "title": null}},
    "color": {"field": "m", "type": "nominal", "scale": {"domain": ["none","std","semi","max"], "range": ["#000000","#008080","#e66100","#ff00ff"]}},
    "order": {"value": null}}}
 ]
},
{
 "width": 876, "height": 349,
 "data": {"name": "p3"},
 "resolve": {"axis": {"x": "independent", "y": "independent"}},
 "layer": [
  {"transform": [{"filter": "datum.m=='none'"}], "mark": {"type": "line"},
   "encoding": {
    "x": {"field": "x", "type": "quantitative", "scale": {"domain": [0, 141.2], "nice": false, "zero": false}, "axis": {"orient": "bottom", "values": [0,10,20,30,40,50,60,70,80,90,100,110,120,130,140], "labels": false, "tickSize": -14, "title": null}},
    "y": {"field": "y", "type": "quantitative", "scale": {"domain": [0, 0.55], "nice": false, "zero": false}, "axis": {"orient": "left", "values": [0,0.2,0.4], "format": ".1f", "tickSize": -16, "labelPadding": 36, "title": "m/M⊙", "titleX": -91, "titleY": 197, "titleAngle": 270, "titleAlign": "center", "titleBaseline": "alphabetic"}},
    "color": {"field": "m", "type": "nominal", "scale": {"domain": ["none","std","semi","max"], "range": ["#000000","#008080","#e66100","#ff00ff"]}},
    "detail": {"field": "p", "type": "nominal"},
    "order": {"value": null}}},
  {"transform": [{"filter": "datum.m=='semi'"}], "mark": {"type": "line"},
   "encoding": {
    "x": {"field": "x", "type": "quantitative", "scale": {"domain": [0, 141.2], "nice": false, "zero": false}, "axis": {"orient": "top", "values": [0,10,20,30,40,50,60,70,80,90,100,110,120,130,140], "labels": false, "tickSize": -14, "title": null}},
    "y": {"field": "y", "type": "quantitative", "scale": {"domain": [0, 0.55], "nice": false, "zero": false}, "axis": {"orient": "left", "values": [0,0.05,0.1,0.15,0.2,0.25,0.3,0.35,0.4,0.45,0.5,0.55], "tickSize": -10, "labels": false, "domain": false, "title": null}},
    "color": {"field": "m", "type": "nominal", "scale": {"domain": ["none","std","semi","max"], "range": ["#000000","#008080","#e66100","#ff00ff"]}},
    "detail": {"field": "p", "type": "nominal"},
    "order": {"value": null}}},
  {"transform": [{"filter": "datum.m=='std'"}], "mark": {"type": "line", "interpolate": "linear"},
   "encoding": {
    "x": {"field": "x", "type": "quantitative", "scale": {"domain": [0, 141.2], "nice": false, "zero": false}, "axis": null},
    "y": {"field": "y", "type": "quantitative", "scale": {"domain": [0, 0.55], "nice": false, "zero": false}, "axis": {"orient": "right", "values": [0,0.2,0.4], "tickSize": -16, "labels": false, "title": null}},
    "color": {"field": "m", "type": "nominal", "scale": {"domain": ["none","std","semi","max"], "range": ["#000000","#008080","#e66100","#ff00ff"]}},
    "detail": {"field": "p", "type": "nominal"},
    "order": {"value": null}}},
  {"transform": [{"filter": "datum.m=='max'"}], "mark": {"type": "line"},
   "encoding": {
    "x": {"field": "x", "type": "quantitative", "scale": {"domain": [0, 141.2], "nice": false, "zero": false}, "axis": null},
    "y": {"field": "y", "type": "quantitative", "scale": {"domain": [0, 0.55], "nice": false, "zero": false}, "axis": {"orient": "right", "values": [0,0.05,0.1,0.15,0.2,0.25,0.3,0.35,0.4,0.45,0.5,0.55], "tickSize": -10, "labels": false, "domain": false, "title": null}},
    "color": {"field": "m", "type": "nominal", "scale": {"domain": ["none","std","semi","max"], "range": ["#000000","#008080","#e66100","#ff00ff"]}},
    "detail": {"field": "p", "type": "nominal"},
    "order": {"value": null}}},
  {"data": {"values": [{"t": "H-burning shell", "x": 103.3, "y": 0.429}, {"t": "convective core", "x": 24.85, "y": 0.2307}]}, "mark": {"type": "text", "font": "DejaVu Serif", "fontSize": 29, "align": "center", "baseline": "alphabetic", "color": "#000000"},
   "encoding": {"x": {"field": "x", "type": "quantitative", "scale": {"domain": [0, 141.2], "nice": false, "zero": false}, "axis": null}, "y": {"field": "y", "type": "quantitative", "scale": {"domain": [0, 0.55], "nice": false, "zero": false}, "axis": null}, "text": {"field": "t"}}}
 ]
},
{
 "width": 876, "height": 348,
 "data": {"name": "p4"},
 "resolve": {"axis": {"x": "independent", "y": "independent"}},
 "layer": [
  {"transform": [{"filter": "datum.m=='none'"}], "mark": {"type": "line", "strokeCap": "round"},
   "encoding": {
    "x": {"field": "x", "type": "quantitative", "scale": {"domain": [0, 141.2], "nice": false, "zero": false}, "axis": {"orient": "bottom", "values": [0,10,20,30,40,50,60,70,80,90,100,110,120,130,140], "tickSize": -14, "labelPadding": 50, "labelBaseline": "alphabetic", "labelExpr": "datum.value==50||datum.value==100?datum.label:''", "title": "Horizontal branch age (Myr)", "titleX": 438, "titleY": 85, "titleAlign": "center", "titleBaseline": "alphabetic"}},
    "y": {"field": "y", "type": "quantitative", "scale": {"domain": [0, 1.1], "nice": false, "zero": false}, "axis": {"orient": "left", "values": [0,0.5,1], "format": ".1f", "tickSize": -16, "labelPadding": 36, "title": "Xcent", "titleX": -91, "titleY": 191, "titleAngle": 270, "titleAlign": "center", "titleBaseline": "alphabetic"}},
    "color": {"field": "m", "type": "nominal", "scale": {"domain": ["none","std","semi","max"], "range": ["#000000","#008080","#e66100","#ff00ff"]}},
    "strokeDash": {"field": "e", "type": "nominal", "scale": {"domain": ["He","C","O"], "range": [[1,0],[0.5,11],[17,15]]}, "legend": null},
    "order": {"value": null}}},
  {"transform": [{"filter": "datum.m=='semi'"}], "mark": {"type": "line", "strokeCap": "round"},
   "encoding": {
    "x": {"field": "x", "type": "quantitative", "scale": {"domain": [0, 141.2], "nice": false, "zero": false}, "axis": {"orient": "top", "values": [0,10,20,30,40,50,60,70,80,90,100,110,120,130,140], "labels": false, "tickSize": -14, "title": null}},
    "y": {"field": "y", "type": "quantitative", "scale": {"domain": [0, 1.1], "nice": false, "zero": false}, "axis": {"orient": "left", "values": [0,0.05,0.1,0.15,0.2,0.25,0.3,0.35,0.4,0.45,0.5,0.55,0.6,0.65,0.7,0.75,0.8,0.85,0.9,0.95,1,1.05,1.1], "tickSize": -10, "labels": false, "domain": false, "title": null}},
    "color": {"field": "m", "type": "nominal", "scale": {"domain": ["none","std","semi","max"], "range": ["#000000","#008080","#e66100","#ff00ff"]}},
    "strokeDash": {"field": "e", "type": "nominal", "scale": {"domain": ["He","C","O"], "range": [[1,0],[0.5,11],[17,15]]}, "legend": null},
    "order": {"value": null}}},
  {"transform": [{"filter": "datum.m=='std'"}], "mark": {"type": "line", "strokeCap": "round", "interpolate": "linear"},
   "encoding": {
    "x": {"field": "x", "type": "quantitative", "scale": {"domain": [0, 141.2], "nice": false, "zero": false}, "axis": null},
    "y": {"field": "y", "type": "quantitative", "scale": {"domain": [0, 1.1], "nice": false, "zero": false}, "axis": {"orient": "right", "values": [0,0.5,1], "tickSize": -16, "labels": false, "title": null}},
    "color": {"field": "m", "type": "nominal", "scale": {"domain": ["none","std","semi","max"], "range": ["#000000","#008080","#e66100","#ff00ff"]}},
    "strokeDash": {"field": "e", "type": "nominal", "scale": {"domain": ["He","C","O"], "range": [[1,0],[0.5,11],[17,15]]}, "legend": null},
    "order": {"value": null}}},
  {"transform": [{"filter": "datum.m=='max'"}], "mark": {"type": "line", "strokeCap": "round"},
   "encoding": {
    "x": {"field": "x", "type": "quantitative", "scale": {"domain": [0, 141.2], "nice": false, "zero": false}, "axis": null},
    "y": {"field": "y", "type": "quantitative", "scale": {"domain": [0, 1.1], "nice": false, "zero": false}, "axis": {"orient": "right", "values": [0,0.05,0.1,0.15,0.2,0.25,0.3,0.35,0.4,0.45,0.5,0.55,0.6,0.65,0.7,0.75,0.8,0.85,0.9,0.95,1,1.05,1.1], "tickSize": -10, "labels": false, "domain": false, "title": null}},
    "color": {"field": "m", "type": "nominal", "scale": {"domain": ["none","std","semi","max"], "range": ["#000000","#008080","#e66100","#ff00ff"]}},
    "strokeDash": {"field": "e", "type": "nominal", "scale": {"domain": ["He","C","O"], "range": [[1,0],[0.5,11],[17,15]]}, "legend": null},
    "order": {"value": null}}},
  {"data": {"values": [{"t": "O", "x": 127, "y": 0.833}, {"t": "C", "x": 126.95, "y": 0.342}, {"t": "He", "x": 112.7, "y": 0.147}]}, "mark": {"type": "text", "font": "DejaVu Serif", "fontSize": 29, "align": "center", "baseline": "alphabetic", "color": "#000000"},
   "encoding": {"x": {"field": "x", "type": "quantitative", "scale": {"domain": [0, 141.2], "nice": false, "zero": false}, "axis": null}, "y": {"field": "y", "type": "quantitative", "scale": {"domain": [0, 1.1], "nice": false, "zero": false}, "axis": null}, "text": {"field": "t"}}}
 ]
}
]
}
